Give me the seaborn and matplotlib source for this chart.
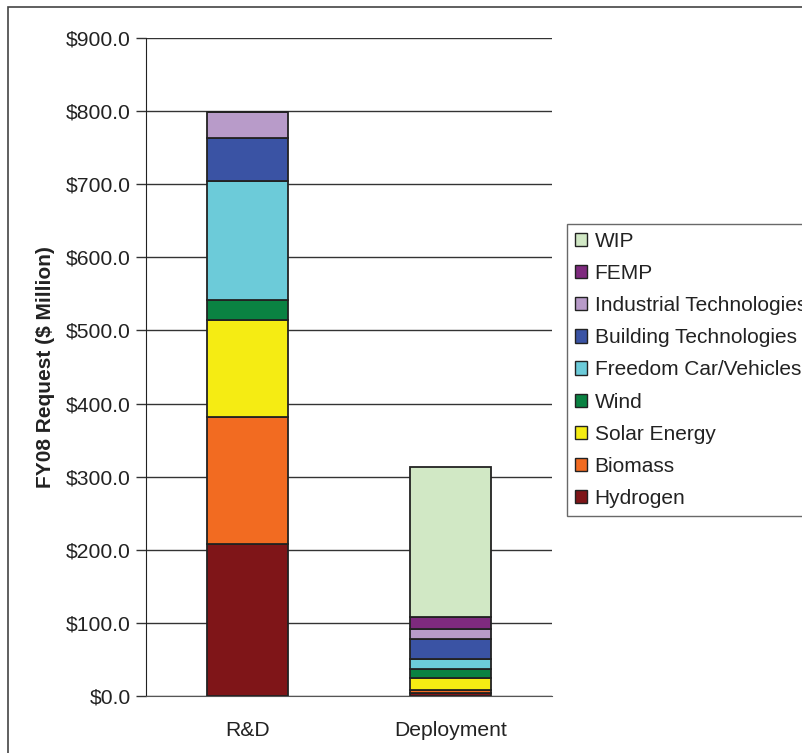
import numpy as np
import pandas as pd
import matplotlib
matplotlib.use("Agg")
import matplotlib.pyplot as plt
import seaborn as sns
from matplotlib.patches import Patch, Rectangle

# values ($ million)
categories = ["R&D", "Deployment"]
programs = ["Hydrogen", "Biomass", "Solar Energy", "Wind", "Freedom Car/Vehicles",
            "Building Technologies", "Industrial Technologies", "FEMP", "WIP"]
rd_values = [208.0, 174.0, 132.0, 27.0, 163.0, 59.0, 36.0, 0.0, 0.0]
deploy_values = [3.6, 4.6, 16.0, 13.0, 14.0, 26.5, 14.0, 17.0, 204.5]
colors = ["#7f1518", "#f26b21", "#f5ec13", "#0a8242", "#6ccbd9",
          "#3a53a4", "#b89bc9", "#7e2a7e", "#d1e8c5"]
y_ticks = np.arange(0, 901, 100)

sns.set_style("white")
plt.rcParams['font.family'] = ['Liberation Sans', 'DejaVu Sans']

fig = plt.figure(figsize=(8.02, 7.53), dpi=100)
ax = fig.add_axes([146 / 802, 1 - 696 / 753, 406 / 802, 658 / 753])

# outer frame of the picture
fig.patches.append(Rectangle((8 / 802, -0.05), 1.2, 1 - 7 / 753 + 0.05,
                             transform=fig.transFigure, fill=False,
                             edgecolor="#444444", linewidth=1.2))

ax.set_axisbelow(True)
for v in y_ticks:
    ax.axhline(v, color="#333333", linewidth=1.0, zorder=0)

bottom = np.zeros(len(categories))
for name, rd, dep, col in zip(programs, rd_values, deploy_values, colors):
    vals = np.array([rd, dep])
    sns.barplot(x=categories, y=vals, bottom=bottom, color=col, width=0.4,
                edgecolor="#222222", linewidth=1.3, saturation=1, ax=ax, zorder=3)
    bottom = bottom + vals

ax.set_xlim(-0.5, 1.5)
ax.set_ylim(0, 900)
ax.set_yticks(y_ticks)
ax.set_yticklabels([f"${v:.1f}" for v in y_ticks], fontsize=15.2, color="#222222")
ax.set_xticks([0, 1])
ax.set_xticklabels(categories, fontsize=15.2, color="#222222")
ax.set_xticks([-0.5, 0.5, 1.5], minor=True)
ax.tick_params(axis="x", which="major", length=0, pad=18)
ax.tick_params(axis="x", which="minor", length=6, width=1, color="#333333", direction="out")
ax.tick_params(axis="y", length=7, width=1, color="#333333", direction="out", pad=4, left=True)
ax.set_xlabel("")
ax.set_ylabel("FY08 Request ($ Million)", fontsize=15, fontweight="bold",
              color="#222222", labelpad=8)

for side in ["top", "right"]:
    ax.spines[side].set_visible(False)
ax.spines["left"].set_color("#222222")
ax.spines["bottom"].set_color("#555555")

handles = [Patch(facecolor=c, edgecolor="#222222", linewidth=1.0, label=p)
           for p, c in zip(programs, colors)][::-1]
leg = fig.legend(handles=handles, loc="upper left",
                 bbox_to_anchor=(567 / 802, 1 - 224 / 753),
                 frameon=True, fancybox=False, fontsize=15,
                 handlelength=0.6, handleheight=0.6, handletextpad=0.35,
                 labelspacing=0.63, borderpad=0.38, borderaxespad=0)
leg.get_frame().set_edgecolor("#444444")
leg.get_frame().set_linewidth(1.0)
for t in leg.get_texts():
    t.set_color("#222222")

fig.savefig("out.png", dpi=100)
